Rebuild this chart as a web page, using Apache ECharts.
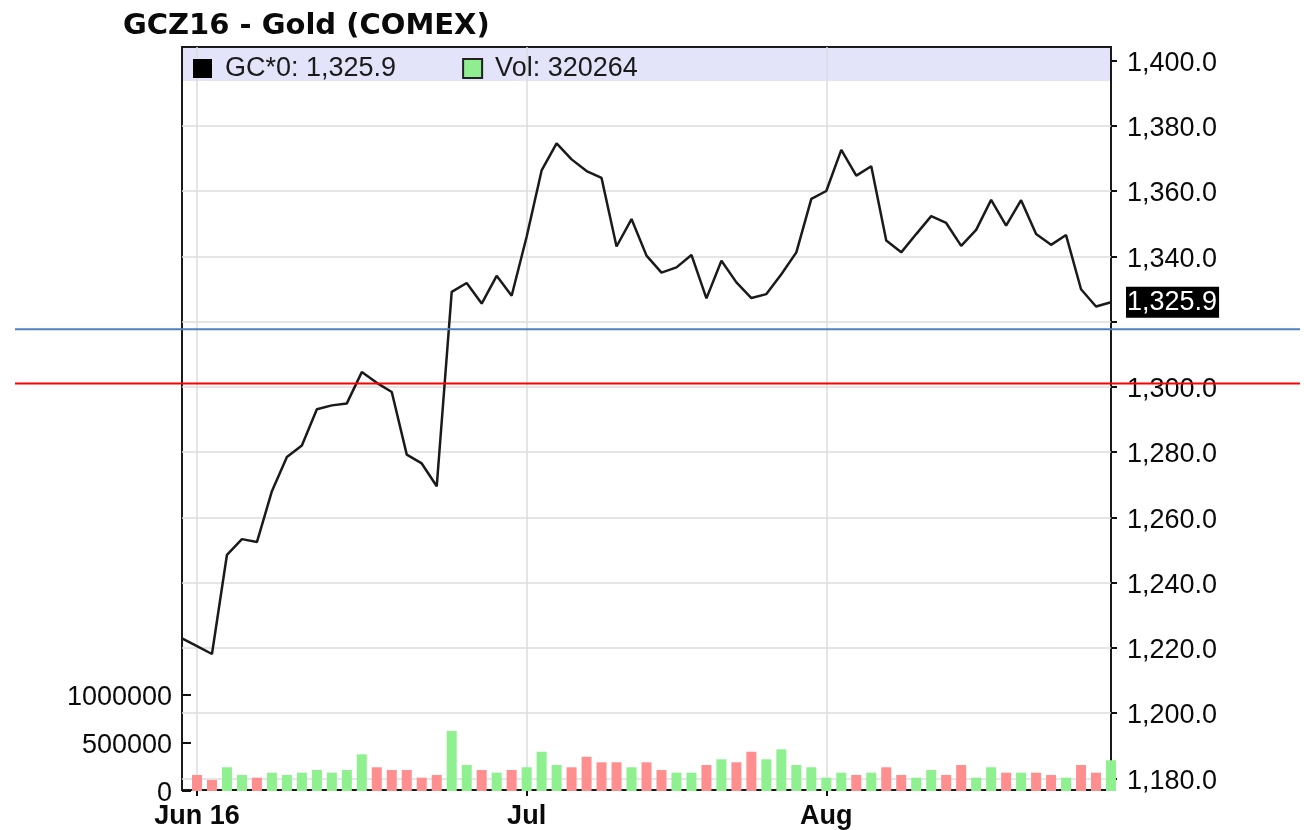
<!DOCTYPE html>
<html><head><meta charset="utf-8">
<script src="https://cdn.jsdelivr.net/npm/echarts@6/dist/echarts.min.js"></script>
<style>html,body{margin:0;padding:0;background:#fff}#c{width:1304px;height:830px}</style>
</head><body><div id="c"></div>
<script>
const dates = [
'2016-05-31',
'2016-06-01','2016-06-02','2016-06-03','2016-06-06','2016-06-07','2016-06-08','2016-06-09','2016-06-10',
'2016-06-13','2016-06-14','2016-06-15','2016-06-16','2016-06-17','2016-06-20','2016-06-21','2016-06-22',
'2016-06-23','2016-06-24','2016-06-27','2016-06-28','2016-06-29','2016-06-30',
'2016-07-01','2016-07-05','2016-07-06','2016-07-07','2016-07-08','2016-07-11','2016-07-12','2016-07-13',
'2016-07-14','2016-07-15','2016-07-18','2016-07-19','2016-07-20','2016-07-21','2016-07-22','2016-07-25',
'2016-07-26','2016-07-27','2016-07-28','2016-07-29',
'2016-08-01','2016-08-02','2016-08-03','2016-08-04','2016-08-05','2016-08-08','2016-08-09','2016-08-10',
'2016-08-11','2016-08-12','2016-08-15','2016-08-16','2016-08-17','2016-08-18','2016-08-19','2016-08-22',
'2016-08-23','2016-08-24','2016-08-25','2016-08-26'];

const prices = [
1222.9,
1220.5,1218.1,1248.5,1253.3,1252.4,1268.0,1278.5,1282.0,
1293.1,1294.3,1294.9,1304.5,1301.2,1298.4,1279.2,1276.5,
1269.5,1329.1,1331.8,1325.5,1334.0,1327.9,
1346.0,1366.3,1374.6,1369.7,1366.1,1364.0,1343.0,1351.4,
1340.2,1335.0,1336.6,1340.4,1327.1,1338.6,1332.0,1327.2,
1328.4,1334.5,1341.2,1357.6,
1360.0,1372.6,1364.7,1367.6,1344.8,1341.2,1346.8,1352.3,
1350.2,1343.2,1348.1,1357.3,1349.4,1357.2,1346.8,1343.5,
1346.5,1329.9,1324.6,1325.9];

const volumes = [
null,
167000,115000,247000,167000,139000,191000,167000,191000,
219000,191000,219000,382000,247000,219000,219000,139000,
167000,625000,271000,219000,191000,219000,
247000,409000,271000,247000,357000,299000,299000,247000,
299000,219000,191000,191000,271000,330000,299000,409000,
330000,434000,271000,247000,
139000,191000,167000,191000,247000,167000,139000,219000,
167000,271000,139000,247000,191000,191000,191000,167000,
139000,271000,191000,320264];

const monthTickDates = ['2016-06-01','2016-07-01','2016-08-01'];
const monthTickLabels = ['Jun 16','Jul','Aug'];
const priceMin = 1180, priceMax = 1400, priceStep = 20;
const volMax = 1000000, volStep = 500000;
const levelLines = [1317.6, 1301.0];

const lastPrice = prices[prices.length - 1];
const lastVol = volumes[volumes.length - 1];
function fmt(v) {
  const s = v.toFixed(1); const p = s.split('.');
  return p[0].replace(/\B(?=(\d{3})+(?!\d))/g, ',') + '.' + p[1];
}
const priceName = 'GC*0: ' + fmt(lastPrice);
const volName = 'Vol: ' + lastVol;
const FONT = "'Liberation Sans', Arial, sans-serif";
const isMonth = (idx, val) => monthTickDates.indexOf(val) >= 0;
const UP = '#8ef08e', DOWN = '#ff8f8f';
const volData = volumes.map((v, i) => ({
  value: v,
  itemStyle: { color: (i > 0 && prices[i] < prices[i - 1]) ? DOWN : UP }
}));
const levelColors = ['#4f81bd', '#ff0000'];

const chart = echarts.init(document.getElementById('c'));
chart.setOption({
  animation: false,
  backgroundColor: '#fff',
  title: {
    text: 'GCZ16 - Gold (COMEX)', left: 123, top: 12, padding: 0,
    textStyle: { fontFamily: "'DejaVu Sans', sans-serif", fontWeight: 'bold', fontSize: 29, color: '#0a0a0a' }
  },
  graphic: [{
    type: 'rect', left: 183, top: 48, z: -1,
    shape: { width: 927, height: 33 },
    style: { fill: '#e3e3f9' }
  }],
  legend: {
    left: 193, top: 55, padding: 0, itemGap: 66, itemWidth: 19, itemHeight: 19,
    selectedMode: false,
    textStyle: { fontFamily: FONT, fontSize: 27, color: '#1a1a1a', padding: [0, 0, 0, 8] },
    data: [
      { name: priceName, icon: 'rect', itemStyle: { color: '#000' } },
      { name: volName, icon: 'rect', itemStyle: { color: '#90ee90', borderColor: '#222', borderWidth: 2 } }
    ]
  },
  grid: [
    { left: 182, right: 193, top: 47, bottom: 39, show: true, borderColor: '#1a1a1a', borderWidth: 2, backgroundColor: 'transparent' },
    { left: 182, right: 193, top: 60.5, bottom: 51.7 },
    { left: 182, right: 193, top: 695, bottom: 39 },
    { left: 15, right: 4, top: 60.5, bottom: 51.7 }
  ],
  xAxis: [
    {
      gridIndex: 0, type: 'category', data: dates, boundaryGap: false,
      axisLine: { show: false },
      axisTick: { show: true, interval: isMonth, length: 6, lineStyle: { color: '#111', width: 2 } },
      axisLabel: {
        interval: isMonth, margin: 13, fontFamily: FONT, fontWeight: 'bold', fontSize: 27, color: '#0a0a0a',
        formatter: v => monthTickLabels[monthTickDates.indexOf(v)] || ''
      },
      splitLine: { show: true, interval: isMonth, lineStyle: { color: '#dcdcdc', width: 1.5 } }
    },
    { gridIndex: 1, type: 'category', data: dates, boundaryGap: false, show: false },
    { gridIndex: 2, type: 'category', data: dates, boundaryGap: false, show: false },
    { gridIndex: 3, type: 'value', min: 0, max: 1, show: false }
  ],
  yAxis: [
    { gridIndex: 0, type: 'value', show: false },
    {
      gridIndex: 1, type: 'value', position: 'right', min: priceMin, max: priceMax, interval: priceStep,
      axisLine: { show: false },
      axisTick: { show: true, length: 6, lineStyle: { color: '#111', width: 2 } },
      axisLabel: {
        margin: 16, fontFamily: FONT, fontSize: 27, color: '#0a0a0a',
        formatter: v => Math.abs(v - lastPrice) < 10 ? '' : '{a|' + fmt(v) + '}',
        rich: { a: { fontFamily: FONT, fontSize: 27, color: '#0a0a0a', padding: [6, 0, 0, 0] } }
      },
      splitLine: { show: true, showMaxLine: false, lineStyle: { color: '#dcdcdc', width: 1.5 } }
    },
    {
      gridIndex: 2, type: 'value', position: 'left', min: 0, max: volMax, interval: volStep,
      axisLine: { show: false },
      axisTick: { show: true, inside: true, length: 9, lineStyle: { color: '#111', width: 2 } },
      axisLabel: {
        margin: 10, fontFamily: FONT, fontSize: 27, color: '#0a0a0a',
        formatter: v => '{a|' + String(v) + '}',
        rich: { a: { fontFamily: FONT, fontSize: 27, color: '#0a0a0a', padding: [5, 0, 0, 0] } }
      },
      splitLine: { show: false }
    },
    { gridIndex: 3, type: 'value', min: priceMin, max: priceMax, show: false }
  ],
  series: [
    {
      name: volName, type: 'bar', xAxisIndex: 2, yAxisIndex: 2, data: volData,
      barWidth: 10, itemStyle: { color: '#90ee90' }, clip: true, silent: true
    },
    {
      name: priceName, type: 'line', xAxisIndex: 1, yAxisIndex: 1, data: prices,
      symbol: 'none', lineStyle: { color: '#1a1a1a', width: 2.5 }, z: 3,
      markPoint: {
        symbol: 'circle', symbolSize: 0, silent: true,
        data: [{ coord: [dates[dates.length - 1], lastPrice], value: lastPrice }],
        label: {
          show: true, position: 'right', distance: 15, formatter: p => fmt(p.value),
          backgroundColor: '#000', color: '#fff', fontFamily: FONT, fontSize: 27, padding: [3, 2, 1, 1]
        }
      }
    }
  ].concat(levelLines.map((lvl, i) => ({
    type: 'line', xAxisIndex: 3, yAxisIndex: 3, data: [[0, lvl], [1, lvl]],
    symbol: 'none', silent: true, z: 5,
    lineStyle: { color: levelColors[i], width: 2 }
  })))
});
</script></body></html>
